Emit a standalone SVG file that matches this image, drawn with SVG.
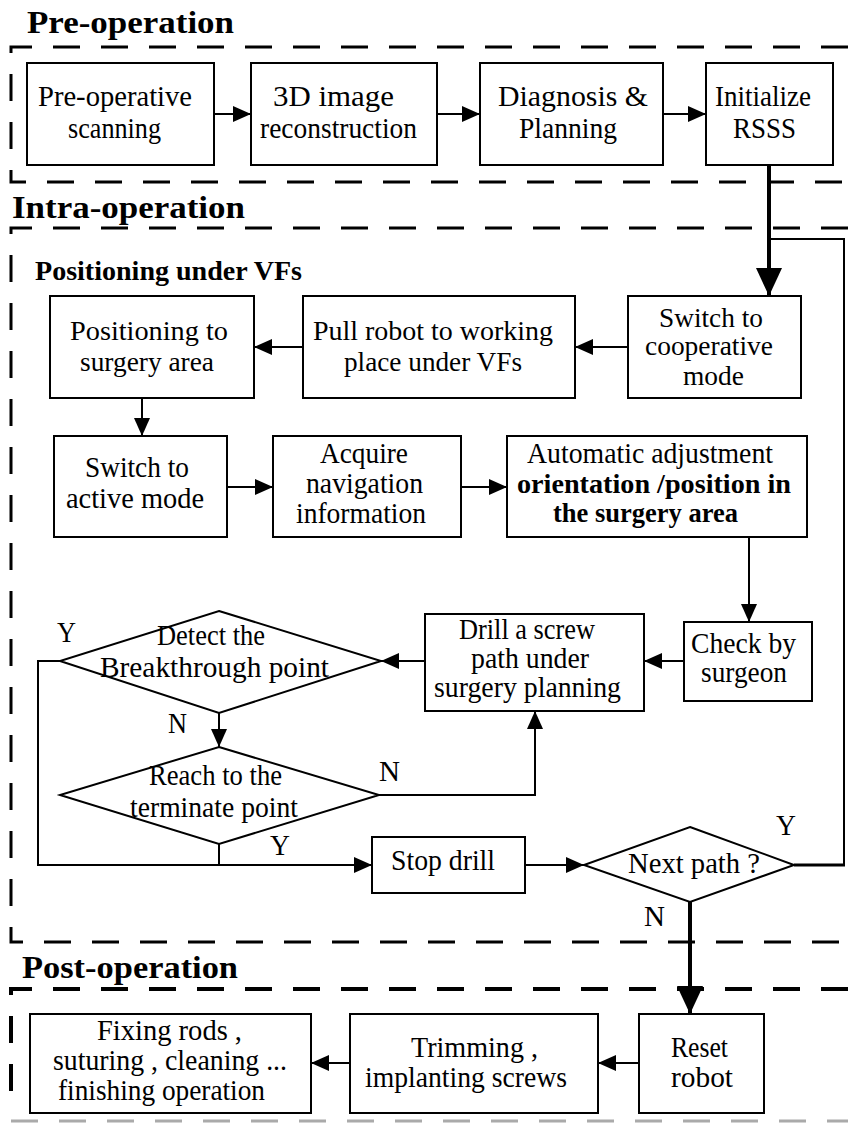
<svg xmlns="http://www.w3.org/2000/svg" width="848" height="1123" viewBox="0 0 848 1123">
<style>
text{font-family:"Liberation Serif","Times New Roman",serif;font-size:29px;fill:#000}
.p{font-size:29px}
.L{font-size:28px}
.s{font-size:27px}
.b{font-weight:bold;font-size:28px}
.t{font-weight:bold;font-size:32px}
.box{fill:#fff;stroke:#000;stroke-width:2}
.dash{fill:none;stroke:#000;stroke-width:3;stroke-dasharray:27 21}
.ln{fill:none;stroke:#000;stroke-width:2}
.thk{fill:none;stroke:#000;stroke-width:4}
</style>
<defs>
<marker id="a" markerUnits="userSpaceOnUse" markerWidth="18" markerHeight="16" refX="18" refY="8" orient="auto"><path d="M0,0 L18,8 L0,16 z" fill="#000"/></marker>
<marker id="A" markerUnits="userSpaceOnUse" markerWidth="28" markerHeight="26" refX="28" refY="13" orient="auto"><path d="M0,0 L28,13 L0,26 z" fill="#000"/></marker>
</defs>
<rect width="848" height="1123" fill="#fff"/>

<g id="sections">
<path class="dash" d="M848,47 H11 V182 H848"/>
<path class="dash" d="M848,228 H11 V942 H848"/>
<path class="dash" d="M848,989 H11 V1110" style="stroke-width:4"/>
<line class="dash" x1="11" y1="1121" x2="848" y2="1121" style="stroke:#aaa"/>
<text class="t" x="27" y="33" textLength="207" lengthAdjust="spacingAndGlyphs">Pre-operation</text>
<text class="t" x="12" y="218" textLength="233" lengthAdjust="spacingAndGlyphs">Intra-operation</text>
<text class="t" x="22" y="978" textLength="216" lengthAdjust="spacingAndGlyphs">Post-operation</text>
<text class="b" x="35" y="280" textLength="267" lengthAdjust="spacingAndGlyphs">Positioning under VFs</text>
</g>

<g id="connectors">
<line class="ln" x1="214" y1="114" x2="251" y2="114" marker-end="url(#a)"/>
<line class="ln" x1="437" y1="114" x2="480" y2="114" marker-end="url(#a)"/>
<line class="ln" x1="663" y1="114" x2="706" y2="114" marker-end="url(#a)"/>
<line class="thk" x1="769" y1="165" x2="769" y2="296" marker-end="url(#A)"/>
<line class="ln" x1="628" y1="347" x2="575" y2="347" marker-end="url(#a)"/>
<line class="ln" x1="303" y1="347" x2="254" y2="347" marker-end="url(#a)"/>
<line class="ln" x1="142" y1="398" x2="142" y2="436" marker-end="url(#a)"/>
<line class="ln" x1="227" y1="487" x2="273" y2="487" marker-end="url(#a)"/>
<line class="ln" x1="461" y1="487" x2="507" y2="487" marker-end="url(#a)"/>
<line class="ln" x1="749" y1="537" x2="749" y2="622" marker-end="url(#a)"/>
<line class="ln" x1="684" y1="661" x2="644" y2="661" marker-end="url(#a)"/>
<line class="ln" x1="425" y1="661" x2="381" y2="661" marker-end="url(#a)"/>
<line class="ln" x1="219" y1="713" x2="219" y2="747" marker-end="url(#a)"/>
<polyline class="ln" points="379,795 535,795 535,711" marker-end="url(#a)"/>
<polyline class="ln" points="60,661 38,661 38,865 372,865" marker-end="url(#a)"/>
<line class="ln" x1="219" y1="844" x2="219" y2="865"/>
<line class="ln" x1="525" y1="865" x2="584" y2="865" marker-end="url(#a)"/>
<line x1="794" y1="865" x2="845" y2="865" stroke="#000" stroke-width="3"/>
<polyline class="ln" points="844,865 844,239 769,239"/>
<line class="thk" x1="690" y1="902" x2="690" y2="1014" marker-end="url(#A)"/>
<line class="ln" x1="639" y1="1063" x2="598" y2="1063" marker-end="url(#a)"/>
<line class="ln" x1="350" y1="1063" x2="311" y2="1063" marker-end="url(#a)"/>
<text x="57" y="642" textLength="19" lengthAdjust="spacingAndGlyphs">Y</text>
<text x="168" y="733" textLength="19" lengthAdjust="spacingAndGlyphs">N</text>
<text x="379" y="781" textLength="21" lengthAdjust="spacingAndGlyphs">N</text>
<text x="270" y="855" textLength="20" lengthAdjust="spacingAndGlyphs">Y</text>
<text x="776" y="835" textLength="20" lengthAdjust="spacingAndGlyphs">Y</text>
<text x="644" y="926" textLength="21" lengthAdjust="spacingAndGlyphs">N</text>
</g>

<g id="n1"><rect class="box" x="27" y="63" width="187" height="102"/>
<text class="p" x="38" y="106" textLength="154" lengthAdjust="spacingAndGlyphs">Pre-operative</text>
<text class="p" x="68" y="138" textLength="93" lengthAdjust="spacingAndGlyphs">scanning</text></g>
<g id="n2"><rect class="box" x="251" y="63" width="186" height="102"/>
<text class="p" x="273" y="106" textLength="121" lengthAdjust="spacingAndGlyphs">3D image</text>
<text class="p" x="260" y="138" textLength="157" lengthAdjust="spacingAndGlyphs">reconstruction</text></g>
<g id="n3"><rect class="box" x="480" y="63" width="183" height="102"/>
<text class="p" x="498" y="106" textLength="150" lengthAdjust="spacingAndGlyphs">Diagnosis &amp;</text>
<text class="p" x="519" y="138" textLength="98" lengthAdjust="spacingAndGlyphs">Planning</text></g>
<g id="n4"><rect class="box" x="706" y="63" width="127" height="102"/>
<text class="p" x="715" y="106" textLength="96" lengthAdjust="spacingAndGlyphs">Initialize</text>
<text class="p" x="733" y="138" textLength="63" lengthAdjust="spacingAndGlyphs">RSSS</text></g>

<g id="n5"><rect class="box" x="628" y="296" width="173" height="102"/>
<text class="s" x="659" y="327" textLength="104" lengthAdjust="spacingAndGlyphs">Switch to</text>
<text class="s" x="645" y="355" textLength="128" lengthAdjust="spacingAndGlyphs">cooperative</text>
<text class="s" x="683" y="385" textLength="61" lengthAdjust="spacingAndGlyphs">mode</text></g>
<g id="n6"><rect class="box" x="303" y="296" width="272" height="102"/>
<text class="L" x="313" y="340" textLength="240" lengthAdjust="spacingAndGlyphs">Pull robot to working</text>
<text class="L" x="344" y="371" textLength="178" lengthAdjust="spacingAndGlyphs">place under VFs</text></g>
<g id="n7"><rect class="box" x="50" y="296" width="204" height="102"/>
<text class="L" x="70" y="340" textLength="158" lengthAdjust="spacingAndGlyphs">Positioning to</text>
<text class="L" x="80" y="371" textLength="134" lengthAdjust="spacingAndGlyphs">surgery area</text></g>
<g id="n8"><rect class="box" x="54" y="436" width="173" height="101"/>
<text x="85" y="477" textLength="104" lengthAdjust="spacingAndGlyphs">Switch to</text>
<text x="66" y="508" textLength="138" lengthAdjust="spacingAndGlyphs">active mode</text></g>
<g id="n9"><rect class="box" x="273" y="436" width="188" height="101"/>
<text x="320" y="463" textLength="88" lengthAdjust="spacingAndGlyphs">Acquire</text>
<text x="306" y="493" textLength="117" lengthAdjust="spacingAndGlyphs">navigation</text>
<text x="296" y="523" textLength="130" lengthAdjust="spacingAndGlyphs">information</text></g>
<g id="n10"><rect class="box" x="507" y="436" width="300" height="101"/>
<text x="527" y="463" textLength="246" lengthAdjust="spacingAndGlyphs">Automatic adjustment</text>
<text class="b" x="517" y="493" textLength="274" lengthAdjust="spacingAndGlyphs">orientation /position in</text>
<text class="b" x="553" y="522" textLength="185" lengthAdjust="spacingAndGlyphs">the surgery area</text></g>
<g id="n11"><rect class="box" x="684" y="622" width="128" height="79"/>
<text x="691" y="653" textLength="105" lengthAdjust="spacingAndGlyphs">Check by</text>
<text x="701" y="682" textLength="86" lengthAdjust="spacingAndGlyphs">surgeon</text></g>
<g id="n12"><rect class="box" x="425" y="614" width="219" height="97"/>
<text x="459" y="639" textLength="136" lengthAdjust="spacingAndGlyphs">Drill a screw</text>
<text x="471" y="668" textLength="118" lengthAdjust="spacingAndGlyphs">path under</text>
<text x="434" y="697" textLength="187" lengthAdjust="spacingAndGlyphs">surgery planning</text></g>
<g id="n13"><polygon class="box" points="219,611 381,661 219,713 60,661"/>
<text x="157" y="645" textLength="108" lengthAdjust="spacingAndGlyphs">Detect the</text>
<text x="100" y="677" textLength="229" lengthAdjust="spacingAndGlyphs">Breakthrough  point</text></g>
<g id="n14"><polygon class="box" points="219,747 379,795 219,844 60,795"/>
<text x="149" y="785" textLength="133" lengthAdjust="spacingAndGlyphs">Reach to the</text>
<text x="130" y="817" textLength="168" lengthAdjust="spacingAndGlyphs">terminate point</text></g>
<g id="n15"><rect class="box" x="372" y="837" width="153" height="56"/>
<text x="391" y="870" textLength="104" lengthAdjust="spacingAndGlyphs">Stop drill</text></g>
<g id="n16"><polygon class="box" points="690,827 794,865 690,902 584,865"/>
<text x="628" y="873" textLength="132" lengthAdjust="spacingAndGlyphs">Next path  ?</text></g>

<g id="n17"><rect class="box" x="639" y="1014" width="125" height="99"/>
<text x="671" y="1057" textLength="57" lengthAdjust="spacingAndGlyphs">Reset</text>
<text x="671" y="1087" textLength="62" lengthAdjust="spacingAndGlyphs">robot</text></g>
<g id="n18"><rect class="box" x="350" y="1014" width="248" height="99"/>
<text x="411" y="1057" textLength="127" lengthAdjust="spacingAndGlyphs">Trimming ,</text>
<text x="365" y="1087" textLength="202" lengthAdjust="spacingAndGlyphs">implanting screws</text></g>
<g id="n19"><rect class="box" x="30" y="1014" width="281" height="99"/>
<text x="97" y="1040" textLength="145" lengthAdjust="spacingAndGlyphs">Fixing rods ,</text>
<text x="53" y="1070" textLength="234" lengthAdjust="spacingAndGlyphs">suturing , cleaning ...</text>
<text x="58" y="1100" textLength="207" lengthAdjust="spacingAndGlyphs">finishing operation</text></g>
</svg>
